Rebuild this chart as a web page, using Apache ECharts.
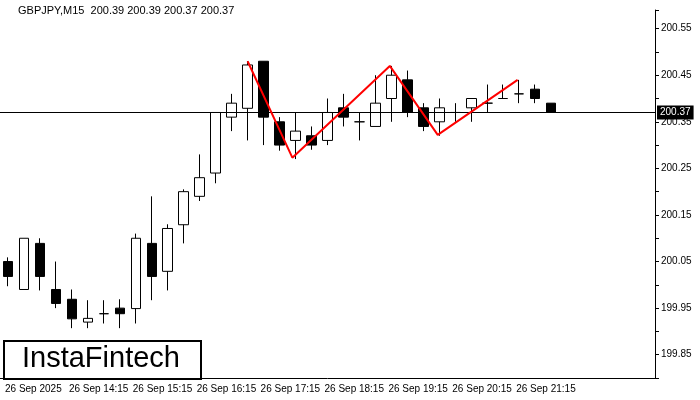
<!DOCTYPE html><html><head><meta charset="utf-8">
<script src="https://cdn.jsdelivr.net/npm/echarts@6/dist/echarts.min.js"></script>
<style>body{margin:0}#c{width:700px;height:400px}</style></head><body><div id="c"></div><script>
const opens  = [200.050,199.99,200.089,199.99,199.969,199.920,199.938,199.95,199.949,200.089,200.029,200.129,200.19,200.24,200.36,200.379,200.48,200.35,200.31,200.32,200.31,200.38,200.35,200.34,200.40,200.44,200.38,200.35,200.37,200.38,200.39,200.40,200.41,200.42,200.39];
const closes = [200.018,200.10,200.018,199.96,199.927,199.928,199.938,199.938,200.10,200.018,200.121,200.20,200.23,200.37,200.39,200.472,200.36,200.30,200.33,200.30,200.37,200.36,200.35,200.39,200.45,200.37,200.34,200.38,200.37,200.40,200.39,200.40,200.41,200.40,200.37];
const lows   = [199.997,199.99,199.988,199.95,199.907,199.907,199.917,199.907,199.917,199.967,199.988,200.089,200.18,200.218,200.33,200.31,200.30,200.288,200.27,200.29,200.30,200.34,200.31,200.34,200.35,200.36,200.33,200.32,200.35,200.35,200.37,200.40,200.39,200.39,200.37];
const highs  = [200.059,200.10,200.10,200.05,199.99,199.967,199.967,199.969,200.11,200.19,200.13,200.205,200.28,200.37,200.41,200.48,200.48,200.36,200.37,200.34,200.40,200.41,200.37,200.45,200.47,200.46,200.39,200.40,200.39,200.40,200.43,200.43,200.44,200.43,200.39];
const patternX = [15,17.8,23.9,26.9,31.9];
const patternY = [200.48,200.273,200.47,200.322,200.44];
const yLabels = ['199.85','199.95','200.05','200.15','200.25','200.35','200.45','200.55'];
const lastPrice = 200.37;
const N = 41;
const cats = [];
for (let i=0;i<N;i++){const m=13*60+15+i*15;const h=Math.floor(m/60),mm=m%60;cats.push(i===0?'26 Sep 2025':'26 Sep '+h+':'+String(mm).padStart(2,'0'));}
const ohlc = opens.map((o,i)=>[o,closes[i],lows[i],highs[i]]);
const chart = echarts.init(document.getElementById('c'));
const F='Liberation Sans, Arial, sans-serif';
chart.setOption({
 animation:false,
 grid:{left:-3,right:45,top:10,bottom:22},
 graphic:[
  {type:'text',left:18,top:5,style:{text:'GBPJPY,M15  200.39 200.39 200.37 200.37',font:'11px '+F,fill:'#000'}},
  {type:'rect',left:3,top:340,shape:{width:197,height:38},style:{fill:'#fff',stroke:'#000',lineWidth:2},z:100},
  {type:'text',left:22,top:344,style:{text:'InstaFintech',font:'29px '+F,fill:'#000'},z:101}
 ],
 xAxis:[{type:'category',data:cats,boundaryGap:true,
   axisLine:{lineStyle:{color:'#000'}},axisTick:{show:false},
   axisLabel:{interval:3,align:'left',margin:6,color:'#000',fontSize:10,fontFamily:F,padding:[0,0,0,-3],
     formatter:(v,i)=>i<=32?v:''},splitLine:{show:false}},
  {type:'value',min:-0.5,max:N-0.5,show:false}],
 yAxis:{type:'value',position:'right',min:199.80,max:200.59,interval:0.05,
   axisLine:{show:true,onZero:false,lineStyle:{color:'#000'}},axisTick:{show:true,length:4,lineStyle:{color:'#000'}},
   splitLine:{show:false},showMaxLabel:false,
   axisLabel:{color:'#000',fontSize:10,fontFamily:F,margin:6,formatter:v=>{const s=v.toFixed(2);return yLabels.includes(s)?s:'';}}},
 series:[
  {type:'candlestick',data:ohlc,barWidth:10,
   itemStyle:{color:'#fff',color0:'#000',borderColor:'#000',borderColor0:'#000',borderWidth:1},
   markLine:{symbol:'none',silent:true,data:[{yAxis:lastPrice}],lineStyle:{color:'#000',type:'solid',width:1},
     label:{position:'end',formatter:'200.37',backgroundColor:'#000',color:'#fff',fontSize:10,fontFamily:F,padding:[2,3],distance:2}}},
  {type:'line',xAxisIndex:1,data:patternX.map((x,i)=>[x,patternY[i]]),symbol:'none',lineStyle:{color:'#ff0000',width:2},z:5}
 ]
});
</script></body></html>
